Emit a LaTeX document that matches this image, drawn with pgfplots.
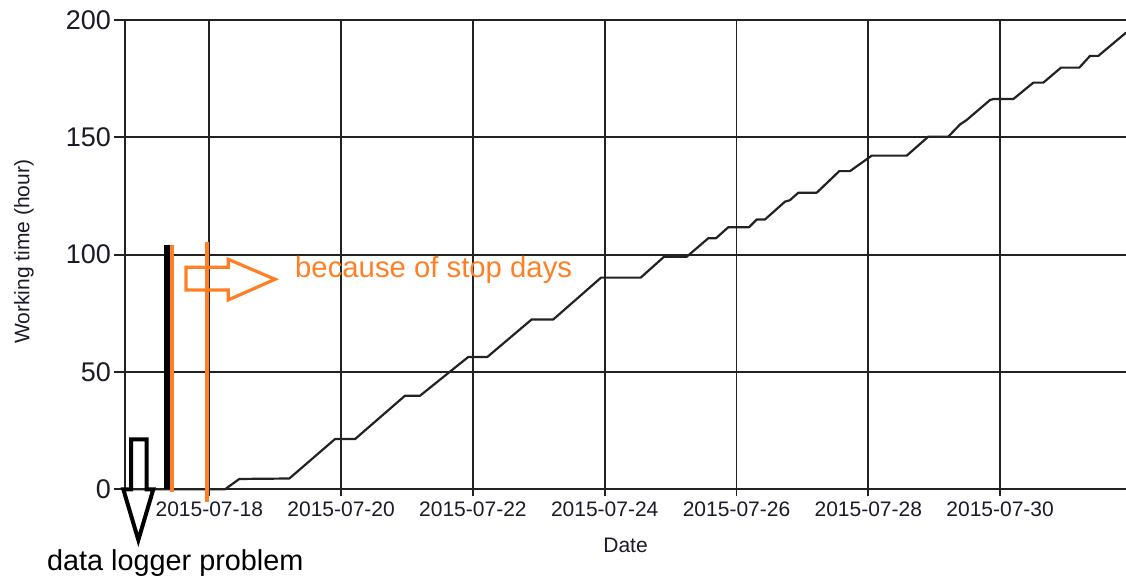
\documentclass[border=0pt]{standalone}
\usepackage{fontspec}
\setmainfont{Liberation Sans}
\usepackage{pgfplots}
\pgfplotsset{compat=1.18}
\definecolor{annot}{HTML}{FF7F27}
\definecolor{gridc}{HTML}{222222}
\definecolor{tickc}{HTML}{1A1A28}
\begin{document}
\begin{tikzpicture}
\begin{axis}[
  at={(125.3pt,90.7pt)}, anchor=south west,
  scale only axis, width=1000.7pt, height=469.3pt,
  xmin=16.725, xmax=31.91, ymin=0, ymax=200,
  axis lines*=left,
  axis line style={gridc, line width=2pt},
  grid=major,
  major grid style={gridc, line width=1.8pt},
  tick align=outside,
  xtick={18,20,22,24,26,28,30},
  xticklabels={2015-07-18,2015-07-20,2015-07-22,2015-07-24,2015-07-26,2015-07-28,2015-07-30},
  ytick={0,50,100,150,200},
  yticklabels={0,50,100,150,200},
  xtick style={gridc, line width=1.8pt, /pgfplots/major tick length=7pt},
  ytick style={gridc, line width=1.8pt, /pgfplots/major tick length=11pt},
  xticklabel style={font=\fontsize{21}{25}\selectfont, text=tickc, inner sep=0pt, anchor=north, yshift=-8.5pt},
  yticklabel style={font=\fontsize{27}{32}\selectfont, text=tickc, inner sep=0pt, anchor=east, xshift=-10pt},
  xlabel={Date},
  ylabel={Working time (hour)},
  xlabel style={font=\fontsize{21}{25}\selectfont, text=tickc, at={(axis description cs:0.4999,-0.1198)}, anchor=center, inner sep=0pt},
  ylabel style={font=\fontsize{21}{25}\selectfont, text=tickc, at={(axis description cs:-0.1012,0.5063)}, anchor=center, inner sep=0pt, rotate=0},
  clip=false,
]
\addplot[gridc, line width=2.2pt, line join=round] coordinates {
(16.725,0) (18.238,0) (18.455,4.4) (19.214,4.6) (19.907,21.4) (20.211,21.4)
(20.970,39.9) (21.198,39.9) (21.930,56.4) (22.219,56.4) (22.892,72.4) (23.220,72.4)
(23.944,90.2) (24.546,90.2) (24.900,99.1) (25.244,99.1) (25.572,107.0) (25.689,107.0)
(25.876,111.7) (26.190,111.7) (26.307,115.0) (26.432,115.0) (26.736,122.6) (26.810,123.2)
(26.938,126.4) (27.217,126.4) (27.560,135.6) (27.722,135.6) (28.052,142.2) (28.583,142.2)
(28.911,150.3) (29.214,150.3) (29.392,155.5) (29.493,157.4) (29.847,165.9) (29.897,166.3)
(30.200,166.3) (30.504,173.3) (30.655,173.3) (30.924,179.7) (31.202,179.7) (31.364,184.7)
(31.490,184.7) (31.910,194.6)
};
\addplot[black, line width=5.5pt] coordinates {(17.354,0) (17.354,104.1)};
\addplot[annot, line width=4.5pt] coordinates {(17.434,-1.0) (17.434,104.1)};
\addplot[annot, line width=3.8pt] coordinates {(17.970,-5.3) (17.970,105.5)};
\draw[annot, line width=3.2pt] (axis cs:17.646,94.6) -- (axis cs:18.288,94.6) -- (axis cs:18.288,98.0)
  -- (axis cs:18.997,89.5) -- (axis cs:18.288,80.7) -- (axis cs:18.288,84.9) -- (axis cs:17.646,84.9) -- cycle;
\draw[black, line width=4pt] (axis cs:16.812,21.3) -- (axis cs:17.050,21.3) -- (axis cs:17.050,0)
  -- (axis cs:17.150,0) -- (axis cs:16.923,-21.6) -- (axis cs:16.695,0) -- (axis cs:16.812,0) -- cycle;
\node[text=annot, anchor=base west, inner sep=0pt, font=\fontsize{29.3}{34}\selectfont] at (axis cs:19.300,90.4) {because of stop days};
\node[text=black, anchor=base west, inner sep=0pt, font=\fontsize{28.8}{34}\selectfont] at (axis cs:15.537,-34.8) {data logger problem};
\end{axis}
\pgfresetboundingbox
\path[use as bounding box] (0,0) rectangle (1126pt,580pt);
\end{tikzpicture}
\end{document}
